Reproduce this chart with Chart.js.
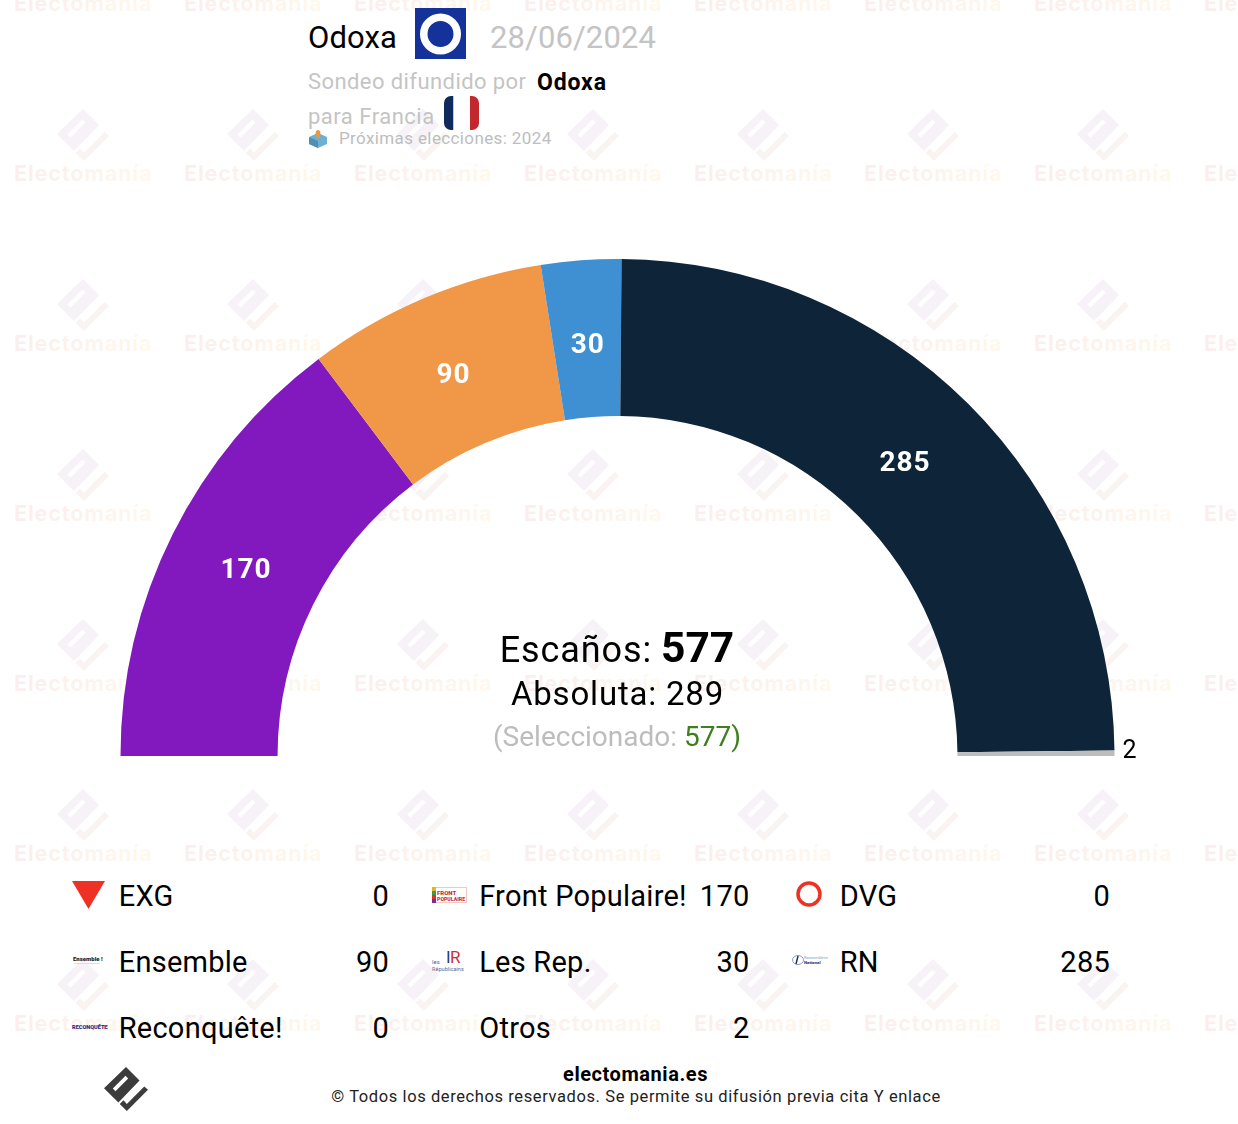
<!DOCTYPE html>
<html lang="es"><head><meta charset="utf-8">
<script src="https://cdn.jsdelivr.net/npm/chart.js@4"></script>
<style>
html,body{margin:0;padding:0;background:#fff;width:1238px;height:1124px;overflow:hidden;font-family:Roboto,sans-serif;color:#000}
#stage{position:relative;width:1238px;height:1124px;overflow:hidden}
.t{position:absolute;white-space:nowrap;line-height:1}
.wm{position:absolute;width:170px;height:80px}
.wmt{position:absolute;left:0;top:54px;width:138px;text-align:center;font:700 21.5px Inter,Roboto,sans-serif;letter-spacing:.85px;line-height:1;white-space:nowrap;background:linear-gradient(90deg,#faeeee,#fff8ec);-webkit-background-clip:text;background-clip:text;color:transparent}
#wrap{position:absolute;left:87px;top:259px;width:1061px;height:517px}
.name,.val{position:absolute;font-size:29px;line-height:1;white-space:nowrap;letter-spacing:.25px}
.val{text-align:right}
</style></head><body><div id="stage">
<div id="wms"></div>
<div id="wrap"><canvas id="c" width="1061" height="517" role="img" aria-label="Escaños por partido"></canvas></div>

<div class="t" style="left:308px;top:22px;font-size:31px;letter-spacing:.1px">Odoxa</div>
<svg style="position:absolute;left:415px;top:8px" width="51" height="51"><rect width="51" height="51" fill="#14329a"/><circle cx="25.5" cy="26" r="16.75" fill="none" stroke="#fff" stroke-width="7.5"/></svg>
<div class="t" style="left:490px;top:22px;font-size:31px;color:#c4c4c4;letter-spacing:.1px">28/06/2024</div>
<div class="t" style="left:308px;top:71px;font-size:22px;color:#c4c4c4;letter-spacing:.42px">Sondeo difundido por</div>
<div class="t" style="left:537px;top:71px;font-size:23px;font-weight:700;letter-spacing:.85px">Odoxa</div>
<div class="t" style="left:308px;top:106px;font-size:22px;color:#c4c4c4;letter-spacing:.5px">para Francia</div>
<svg style="position:absolute;left:444px;top:96px" width="35" height="34"><defs><clipPath id="fl"><rect width="35" height="34" rx="7"/></clipPath></defs><g clip-path="url(#fl)"><rect width="9.5" height="34" fill="#0f2a5c"/><rect x="9.5" width="16.5" height="34" fill="#fff"/><rect x="26" width="9" height="34" fill="#c1272d"/></g></svg>
<svg style="position:absolute;left:308px;top:129px" width="20" height="19"><path d="M1 8l9-4 9 4v7l-9 4-9-4z" fill="#6fb0d2"/><path d="M1 8l9 4v7l-9-4z" fill="#4f8fb4"/><ellipse cx="10" cy="5" rx="2.5" ry="4" fill="#e59a4a"/></svg>
<div class="t" style="left:339px;top:130px;font-size:17px;color:#bdbdbd;letter-spacing:.38px">Próximas elecciones: 2024</div>

<div class="t" style="left:0;top:627px;width:1234px;text-align:center;font-size:36px"><span style="letter-spacing:.9px">Escaños:</span><span style="letter-spacing:0"> </span><b style="font-size:42.5px">577</b></div>
<div class="t" style="left:0;top:677px;width:1235px;text-align:center;font-size:33px;letter-spacing:.8px">Absoluta: 289</div>
<div class="t" style="left:0;top:723px;width:1234px;text-align:center;font-size:28px;color:#bdbdbd">(Seleccionado: <span style="color:#3f7f1e">577</span><span style="color:#3f7f1e">)</span></div>

<div id="legend"></div>

<svg style="position:absolute;left:104px;top:1067px" width="44" height="44" viewBox="0 0 52 52"><path fill="#3c3c3c" fill-rule="evenodd" d="M26 0L42 16 17 42 0 25zM28.6 13.6L25.4 10.4 10.4 25.4 13.6 28.6z"/><path fill="#3c3c3c" d="M52 27L27 52 18.6 43.7 23 39.4 27 43.7 47.6 23z"/></svg>
<div class="t" style="left:0;top:1064px;width:1271px;text-align:center;font-size:20px;font-weight:700;letter-spacing:.55px">electomania.es</div>
<div class="t" style="left:0;top:1089px;width:1272px;text-align:center;font-size:16.5px;letter-spacing:.6px;color:#222">© Todos los derechos reservados. Se permite su difusión previa cita Y enlace</div>
</div>
<script>
const categories=["EXG","Front Populaire!","DVG","Ensemble","Les Rep.","RN","Reconquête!","Otros"];
const seats=[0,170,0,90,30,285,0,2];
const colors=["#ee3124","#8119be","#ee3124","#f19748","#3f8fd3","#0e2539","#1b2a6b","#bdbdbd"];
const watermark="Electomanía";

// watermark grid
const logoPath='<path fill="#f6f2f8" fill-rule="evenodd" d="M26 0L42 16 17 42 0 25zM28.6 13.6L25.4 10.4 10.4 25.4 13.6 28.6z"/><path fill="#f9f4f1" d="M52 27L27 52 18.6 43.7 23 39.4 27 43.7 47.6 23z"/>';
let w='';
for(let r=-1;r<7;r++){for(let c=0;c<8;c++){
 const x=14+170*c, y=109+170*r;
 w+=`<div class="wm" style="left:${x}px;top:${y}px"><svg style="position:absolute;left:43px;top:0" width="52" height="52" viewBox="0 0 52 52">${logoPath}</svg><div class="wmt">${watermark}</div></div>`;
}}
document.getElementById('wms').innerHTML=w;

// small party marks for the legend
const icons={
 "EXG":'<svg width="34" height="28"><path d="M0 0H33L16.5 28z" fill="#ee3124"/></svg>',
 "Front Populaire!":'<svg width="35" height="16" style="margin-top:6px"><rect x=".5" y=".5" width="34" height="15" fill="#fff" stroke="#f6c6c6"/><rect width="4" height="4" fill="#e8b321"/><rect y="4" width="4" height="4" fill="#3d9a46"/><rect y="8" width="4" height="4" fill="#e0312b"/><rect y="12" width="4" height="4" fill="#7d2a9e"/><text x="5" y="7.5" font-size="6" font-weight="900" fill="#c8313a" font-family="Roboto">FRONT</text><text x="5" y="14" font-size="5.2" font-weight="900" fill="#c8313a" font-family="Roboto">POPULAIRE</text></svg>',
 "DVG":'<svg width="34" height="28"><circle cx="17" cy="13" r="11" fill="none" stroke="#ee3124" stroke-width="3.5"/></svg>',
 "Ensemble":'<svg width="34" height="14" style="margin-top:7px"><text x="1" y="7" font-size="6" font-weight="900" fill="#222" font-family="Roboto">Ensemble !</text><rect x="2" y="9" width="26" height="1" fill="#ddd"/></svg>',
 "Les Rep.":'<svg width="36" height="26"><text x="14" y="16" font-size="17" fill="#2b3d75" font-family="Roboto">I</text><text x="18" y="16" font-size="17" fill="#c8313a" font-family="Roboto">R</text><text x="0" y="17" font-size="6" fill="#5a6a90" font-family="Roboto">les</text><text x="0" y="24" font-size="5.6" fill="#5a6a90" font-family="Roboto">Républicains</text></svg>',
 "RN":'<svg width="36" height="14" style="margin-top:6px"><ellipse cx="6" cy="7" rx="5.5" ry="4.5" fill="#fff" stroke="#8d9ec4"/><path d="M6 3L4 11" stroke="#1b2a6b" stroke-width="1.4"/><text x="12" y="6" font-size="4" fill="#8d9ec4" font-family="Roboto">Rassemblement</text><text x="12" y="10.5" font-size="4.4" font-weight="700" fill="#1b2a6b" font-family="Roboto">National</text></svg>',
 "Reconquête!":'<svg width="36" height="10" style="margin-top:9px"><text x="0" y="7" font-size="5.6" font-weight="900" fill="#1b2a8b" font-family="Roboto">RECONQUÊTE</text><text x="32" y="7" font-size="5.6" font-weight="900" fill="#e0312b" font-family="Roboto">!</text></svg>'
};
let l='';
categories.forEach((n,i)=>{
 const col=i%3,row=Math.floor(i/3);
 const ix=72+360*col, nx=118.7+360.5*col, vr=389+360.5*col, y=882+66*row;
 if(icons[n]) l+=`<div style="position:absolute;left:${ix}px;top:${y-1}px">${icons[n]}</div>`;
 l+=`<div class="name" style="left:${nx}px;top:${y}px">${n}</div>`;
 l+=`<div class="val" style="left:${vr-100}px;width:100px;top:${y}px">${seats[i]}</div>`;
});
document.getElementById('legend').innerHTML=l;

// the original library sets its slice labels slightly off the arc centre
const labelShift={"Front Populaire!":[3,1],"Ensemble":[-1,4],"Les Rep.":[1,6],"RN":[-8,3]};
const labelPlugin={id:'sliceLabels',afterDatasetsDraw(chart){
 const ctx=chart.ctx,ds=chart.data.datasets[0],meta=chart.getDatasetMeta(0);
 ctx.save();ctx.textAlign='center';ctx.textBaseline='middle';
 meta.data.forEach((arc,i)=>{
  const v=ds.data[i]; if(!v) return;
  const mid=(arc.startAngle+arc.endAngle)/2;
  if(v<10){
   const r=arc.outerRadius+15;
   ctx.fillStyle='#000';ctx.font='400 25px Roboto';
   ctx.fillText(v,arc.x+Math.cos(mid)*r,arc.y+Math.sin(mid)*r-1);
  }else{
   const r=(arc.innerRadius+arc.outerRadius)/2;
   const s=labelShift[chart.data.labels[i]]||[0,0];
   ctx.fillStyle='#fff';ctx.font='700 28px Roboto';ctx.letterSpacing='1px';
   ctx.fillText(v,arc.x+Math.cos(mid)*r+s[0],arc.y+Math.sin(mid)*r+1+s[1]);
   ctx.letterSpacing='0px';
  }
 });
 ctx.restore();
}};
new Chart(document.getElementById('c'),{
 type:'doughnut',
 data:{labels:categories,datasets:[{data:seats,backgroundColor:colors,borderWidth:0}]},
 options:{responsive:false,animation:false,rotation:-90,circumference:180,cutout:'68.4%',
  layout:{padding:{bottom:20}},plugins:{legend:{display:false},tooltip:{enabled:false}}},
 plugins:[labelPlugin]
});
</script></body></html>
